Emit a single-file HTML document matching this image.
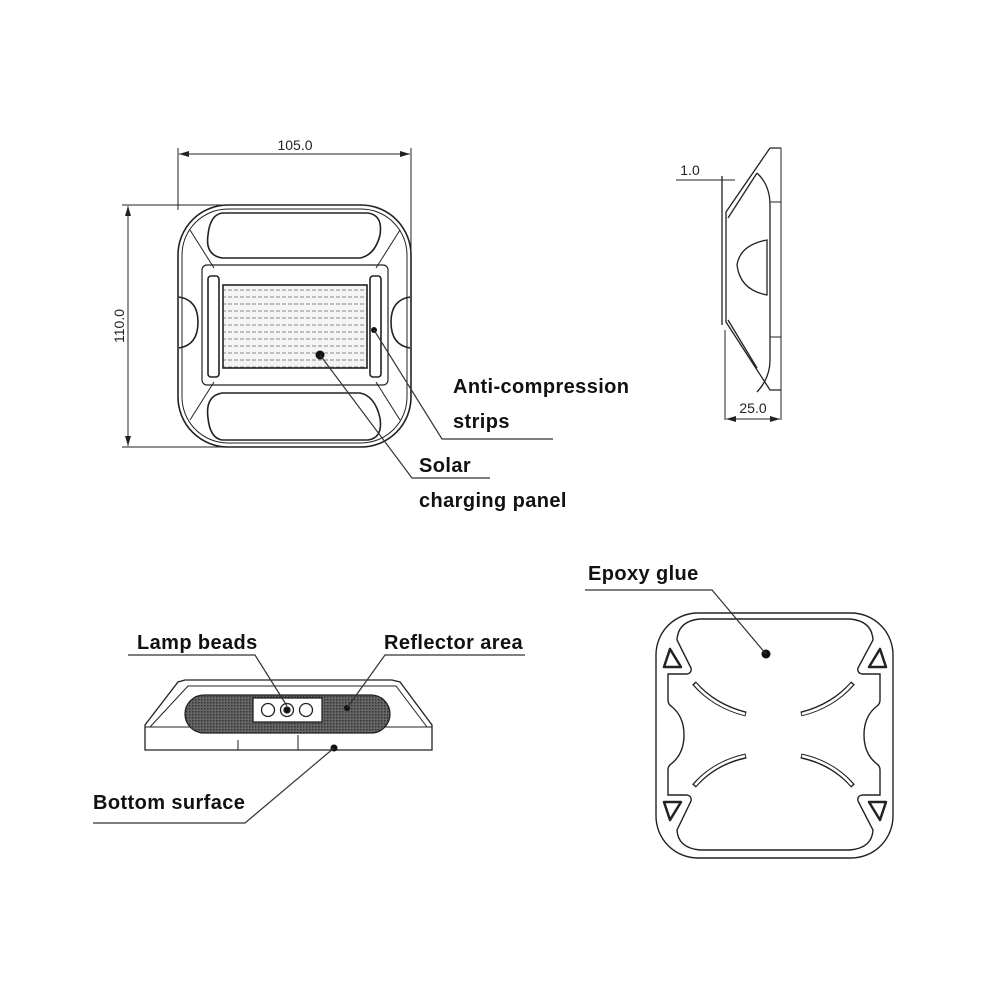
<!DOCTYPE html>
<html><head><meta charset="utf-8"><style>
html,body{margin:0;padding:0;background:#fff;}
svg{display:block;}
.lbl{font-family:"Liberation Sans","Noto Sans CJK SC",sans-serif;font-weight:bold;font-size:20px;letter-spacing:0.4px;fill:#111;}
.dim{font-family:"Liberation Sans",sans-serif;font-size:14px;fill:#222;}
</style></head><body>
<svg width="1000" height="1000" viewBox="0 0 1000 1000" xmlns="http://www.w3.org/2000/svg">
<defs>
<pattern id="pan" width="6" height="7" patternUnits="userSpaceOnUse">
<rect width="6" height="7" fill="#f4f4f4"/><line x1="0" y1="3" x2="4" y2="3" stroke="#888" stroke-width="1"/>
</pattern>
<pattern id="mesh" width="3" height="3" patternUnits="userSpaceOnUse">
<rect width="3" height="3" fill="#666"/><rect width="1.5" height="1.5" fill="#333"/>
</pattern>
<marker id="ar" markerWidth="10" markerHeight="6" refX="10" refY="3" orient="auto-start-reverse"><path d="M0,0 L10,3 L0,6 Z" fill="#222"/></marker>
</defs>
<g fill="none" stroke="#222" stroke-width="1">
<line x1="178" y1="148" x2="178" y2="210"/><line x1="411" y1="148" x2="411" y2="330"/>
<line x1="179" y1="154" x2="410" y2="154" marker-start="url(#ar)" marker-end="url(#ar)"/>
<line x1="122" y1="205" x2="258" y2="205"/><line x1="122" y1="447" x2="258" y2="447"/>
<line x1="128" y1="206" x2="128" y2="446" marker-start="url(#ar)" marker-end="url(#ar)"/>
</g>
<text class="dim" x="295" y="150" text-anchor="middle">105.0</text>
<text class="dim" x="124" y="326" text-anchor="middle" transform="rotate(-90 124 326)">110.0</text>
<g fill="none" stroke="#222" stroke-width="1.6">
<rect x="178" y="205" width="233" height="242" rx="50"/>
<rect x="182" y="209" width="225" height="234" rx="46" stroke-width="1"/>
<path d="M222,213 L368,213 Q383,215 380,235 Q375,255 360,258 L222,258 Q205,255 208,235 Q210,215 222,213 Z"/>
<path d="M222,440 L368,440 Q383,438 380,418 Q375,396 360,393 L222,393 Q205,396 208,418 Q210,438 222,440 Z"/>
<rect x="202" y="265" width="186" height="120" rx="5" stroke-width="1.2"/>
<path d="M190,230 L214,268 M400,230 L376,268 M190,420 L214,382 M400,420 L376,382" stroke-width="1"/>
<path d="M179,297 Q198,300 198,322 Q198,345 179,348" /><path d="M410,297 Q391,300 391,322 Q391,345 410,348"/>
<rect x="208" y="276" width="11" height="101" rx="3"/><rect x="370" y="276" width="11" height="101" rx="3"/>
<rect x="223" y="285" width="144" height="83" fill="url(#pan)"/>
</g>
<circle cx="320" cy="355" r="4.5" fill="#111"/><circle cx="374" cy="330" r="3" fill="#111"/>
<g fill="none" stroke="#333" stroke-width="1.2">
<polyline points="320,355 412,478 490,478"/>
<polyline points="374,330 442,439 553,439"/>
</g>
<text class="lbl" x="453" y="393">Anti-compression</text>
<text class="lbl" x="453" y="428">strips</text>
<text class="lbl" x="419" y="472">Solar</text>
<text class="lbl" x="419" y="507">charging panel</text>
<g fill="none" stroke="#222" stroke-width="1.3">
<line x1="781" y1="148" x2="781" y2="420" stroke-width="1"/>
<line x1="725" y1="330" x2="725" y2="420" stroke-width="1"/>
<line x1="726" y1="419" x2="780" y2="419" stroke-width="1" marker-start="url(#ar)" marker-end="url(#ar)"/>
<line x1="676" y1="180" x2="735" y2="180" stroke-width="1"/>
<line x1="722" y1="176" x2="722" y2="325"/>
<path d="M770,148 L781,148 M770,148 L726,212 L726,322 L770,390 L781,390"/>
<path d="M757,173 Q770,185 770,205 L770,360 Q770,378 757,392 M728,218 L757,173 M728,320 L757,368"/>
<path d="M767,240 Q740,245 737,265 Q740,290 767,295 Z"/>
<line x1="770" y1="202" x2="781" y2="202" stroke-width="1"/><line x1="770" y1="337" x2="781" y2="337" stroke-width="1"/>
</g>
<text class="dim" x="690" y="175" text-anchor="middle">1.0</text>
<text class="dim" x="753" y="413" text-anchor="middle">25.0</text>
<g fill="none" stroke="#222" stroke-width="1.3">
<path d="M145,750 L432,750 L432,725 L400,682 L392,680 L185,680 L178,682 L145,725 Z"/>
<path d="M150,727 L188,686 L396,686 L427,727 M145,727 L432,727 M238,740 L238,750 M298,735 L298,750" stroke-width="1"/>
<rect x="185" y="695" width="205" height="38" rx="19" fill="url(#mesh)"/>
<rect x="253" y="698" width="69" height="24" fill="#fff"/>
<circle cx="268" cy="710" r="6.5" fill="#fff"/><circle cx="287" cy="710" r="6.5" fill="#fff"/><circle cx="287" cy="710" r="3" fill="#111"/><circle cx="306" cy="710" r="6.5" fill="#fff"/>
</g>
<circle cx="347" cy="708" r="3" fill="#111"/><circle cx="334" cy="748" r="3.5" fill="#111"/>
<g fill="none" stroke="#333" stroke-width="1.2">
<polyline points="128,655 255,655 287,706"/>
<polyline points="525,655 385,655 347,708"/>
<polyline points="93,823 245,823 334,748"/>
</g>
<text class="lbl" x="137" y="649">Lamp beads</text>
<text class="lbl" x="384" y="649">Reflector area</text>
<text class="lbl" x="93" y="809">Bottom surface</text>
<g fill="none" stroke="#222" stroke-width="1.4">
<rect x="656" y="613" width="237" height="245" rx="42"/>
<path d="M700,619 L850,619 Q872,621 873,640 L858,668 Q857,673 862,674 L880,674 L880,700 Q880,704 877,706 Q864,716 864,735 Q864,754 877,764 Q880,766 880,770 L880,795 L862,795 Q857,796 858,801 L873,830 Q872,848 850,850 L700,850 Q678,848 677,830 L691,801 Q692,796 687,795 L668,795 L668,770 Q668,766 671,764 Q684,754 684,735 Q684,716 671,706 Q668,704 668,700 L668,674 L687,674 Q692,673 691,668 L677,640 Q678,621 700,619 Z"/>
<path d="M670,649 L664,667 L681,667 Z" stroke-width="2.5" stroke-linejoin="round"/>
<path d="M880,649 L886,667 L869,667 Z" stroke-width="2.5" stroke-linejoin="round"/>
<path d="M664,802 L681,802 L670,820 Z" stroke-width="2.5" stroke-linejoin="round"/>
<path d="M886,802 L869,802 L880,820 Z" stroke-width="2.5" stroke-linejoin="round"/>
</g>
<g fill="none">
<g stroke="#222" stroke-width="5" stroke-linecap="butt">
<path d="M694,683 Q714,706 746,714"/><path d="M853,683 Q833,706 801,714"/>
<path d="M694,786 Q714,763 746,756"/><path d="M853,786 Q833,763 801,756"/>
</g>
<g stroke="#fff" stroke-width="2.6">
<path d="M695,684 Q714,706 745,714"/><path d="M852,684 Q833,706 802,714"/>
<path d="M695,785 Q714,763 745,756"/><path d="M852,785 Q833,763 802,756"/>
</g>
</g>
<circle cx="766" cy="654" r="4.5" fill="#111"/>
<polyline points="585,590 712,590 766,654" fill="none" stroke="#333" stroke-width="1.2"/>
<text class="lbl" x="588" y="580">Epoxy glue</text>
</svg>
</body></html>
